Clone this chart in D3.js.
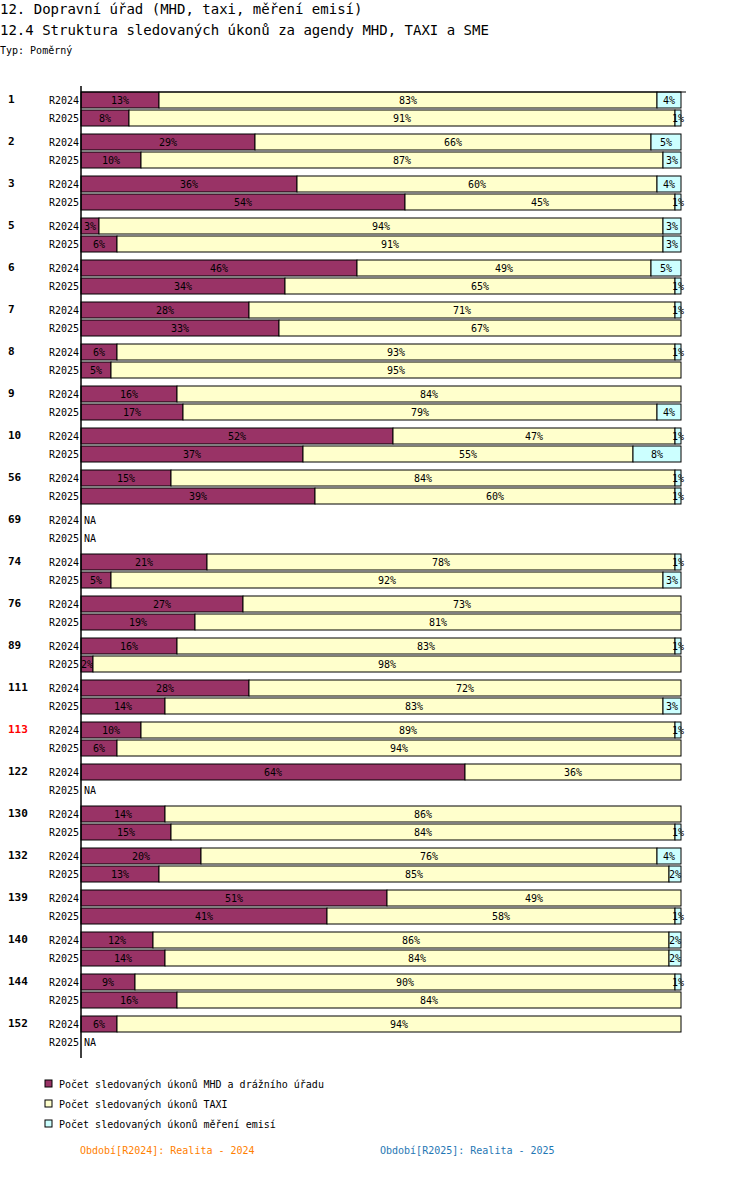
<!DOCTYPE html><html><head><meta charset="utf-8"><script src="https://cdn.jsdelivr.net/npm/d3@7"></script>
<style>body{margin:0;background:#fff}text{font-family:"DejaVu Sans Mono",monospace}</style></head><body><script>
const categories=["1","2","3","5","6","7","8","9","10","56","69","74","76","89","111","113","122","130","132","139","140","144","152"];
const periods=["R2024","R2025"];
const mhd2024=[13,29,36,3,46,28,6,16,52,15,null,21,27,16,28,10,64,14,20,51,12,9,6];
const taxi2024=[83,66,60,94,49,71,93,84,47,84,null,78,73,83,72,89,36,86,76,49,86,90,94];
const sme2024=[4,5,4,3,5,1,1,0,1,1,null,1,0,1,0,1,0,0,4,0,2,1,0];
const mhd2025=[8,10,54,6,34,33,5,17,37,39,null,5,19,2,14,6,null,15,13,41,14,16,null];
const taxi2025=[91,87,45,91,65,67,95,79,55,60,null,92,81,98,83,94,null,84,85,58,84,84,null];
const sme2025=[1,3,1,3,1,0,0,4,8,1,null,3,0,0,3,0,null,1,2,1,2,0,null];
const seriesNames=["Počet sledovaných úkonů MHD a drážního úřadu","Počet sledovaných úkonů TAXI","Počet sledovaných úkonů měření emisí"];
const colors=["#993366","#ffffcc","#ccffff"];
const W=750,H=1188;
const svg=d3.select("body").append("svg").attr("width",W).attr("height",H);
svg.append("text").attr("x",0).attr("y",14).attr("font-size",14).text("12. Dopravní úřad (MHD, taxi, měření emisí)");
svg.append("text").attr("x",0).attr("y",35).attr("font-size",14).text("12.4 Struktura sledovaných úkonů za agendy MHD, TAXI a SME");
svg.append("text").attr("x",0).attr("y",54).attr("font-size",10).text("Typ: Poměrný");
const x=d3.scaleLinear().domain([0,100]).range([81,681]);
const y=d3.scaleBand().domain(categories).range([90,1056]).paddingInner(0).paddingOuter(0);
const data=[[mhd2024,taxi2024,sme2024],[mhd2025,taxi2025,sme2025]];
categories.forEach((c,i)=>{
  const g0=y(c);
  svg.append("text").attr("x",8).attr("y",g0+13).attr("font-size",11).attr("font-weight","bold")
    .attr("fill",c==="113"?"red":"#000").text(c);
  periods.forEach((p,j)=>{
    const yy=g0+2+j*18, h=16;
    svg.append("text").attr("x",79).attr("y",yy+12).attr("text-anchor","end").attr("font-size",10).text(p);
    const vals=data[j].map(s=>s[i]);
    if(vals[0]==null){svg.append("text").attr("x",84).attr("y",yy+12).attr("font-size",10).text("NA");return;}
    let acc=0;
    vals.forEach((v,k)=>{
      if(!v){return;}
      const x0=x(acc),x1=x(acc+v);acc+=v;
      svg.append("rect").attr("x",x0).attr("y",yy).attr("width",x1-x0).attr("height",h)
        .attr("fill",colors[k]).attr("stroke","#000").attr("stroke-width",1);
      svg.append("text").attr("x",(x0+x1)/2).attr("y",yy+12).attr("text-anchor","middle").attr("font-size",10).text(v+"%");
    });
  });
});
svg.append("line").attr("x1",81).attr("x2",81).attr("y1",86).attr("y2",1058).attr("stroke","#000").attr("stroke-width",1.5);
svg.append("line").attr("x1",81).attr("x2",686).attr("y1",92).attr("y2",92).attr("stroke","#000");
seriesNames.forEach((n,k)=>{
  const ly=1080+k*20;
  svg.append("rect").attr("x",45).attr("y",ly).attr("width",7).attr("height",7).attr("fill",colors[k]).attr("stroke","#000");
  svg.append("text").attr("x",59).attr("y",ly+8).attr("font-size",10).text(n);
});
svg.append("text").attr("x",80).attr("y",1154).attr("font-size",10).attr("fill","#ff8000").text("Období[R2024]: Realita - 2024");
svg.append("text").attr("x",380).attr("y",1154).attr("font-size",10).attr("fill","#1f77b4").text("Období[R2025]: Realita - 2025");
</script></body></html>
